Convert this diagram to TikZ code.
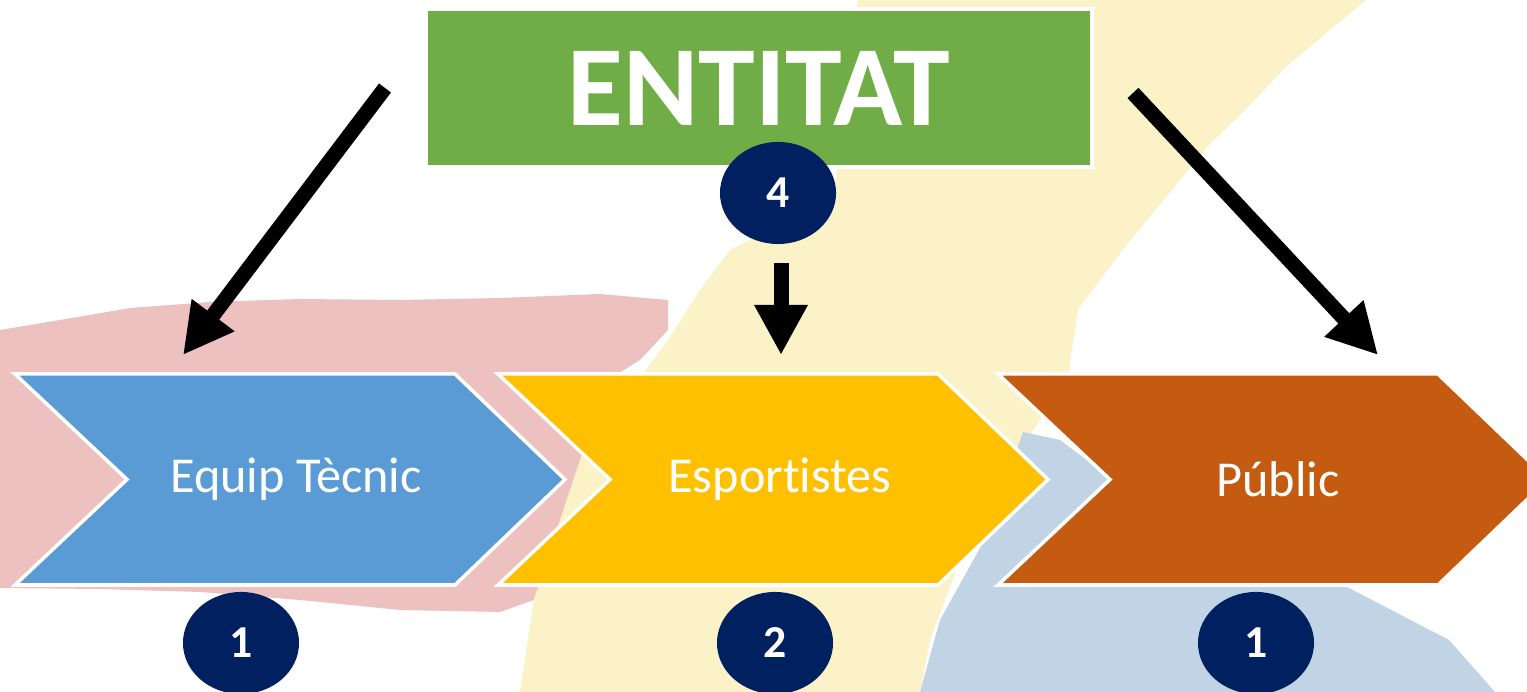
\documentclass[tikz,border=0pt]{standalone}
\usepackage{fontspec}
\setmainfont{Carlito}[Ligatures=NoCommon]
\usetikzlibrary{arrows.meta,shapes.geometric}

\definecolor{boxgreen}{HTML}{70AD47}
\definecolor{chevblue}{HTML}{5B9BD5}
\definecolor{chevyellow}{HTML}{FFC000}
\definecolor{chevorange}{HTML}{C55A11}
\definecolor{navy}{HTML}{002060}
\definecolor{bgpink}{HTML}{EEC1C1}
\definecolor{bgyellow}{HTML}{FBF2C8}
\definecolor{bgblue}{HTML}{C1D4E6}

\tikzset{
  numdot/.style={ellipse,fill=navy,text=white,minimum width=1.16cm,minimum height=1.02cm,
    inner sep=0pt,font=\fontsize{13}{15}\selectfont\bfseries},
  chevlabel/.style={text=white,font=\fontsize{14.3}{16}\selectfont},
  bigarrow/.style={line width=0.15cm,-{Triangle[length=0.5cm,width=0.5cm]}}
}

\begin{document}
\begin{tikzpicture}[x=0.01cm,y=-0.01cm]
  \clip (0,0) rectangle (1527,692);
  \fill[white] (0,0) rectangle (1527,692);

  % painted background
  \fill[bgpink] (0,330) -- (60,320) -- (130,308) -- (210,302) -- (300,299) -- (400,300)
    -- (500,298) -- (600,294) -- (668,300) -- (668,330) -- (640,360) -- (600,385)
    -- (590,450) -- (578,520) -- (560,580) -- (534,600) -- (500,612) -- (400,610)
    -- (300,600) -- (200,592) -- (100,589) -- (0,588) -- cycle;
  \fill[bgyellow] (858,0) -- (1366,0) -- (1287,66) -- (1245,110) -- (1208,146)
    -- (1125,247) -- (1078,309) -- (1069,371) -- (1040,420) -- (1000,480) -- (960,560)
    -- (930,640) -- (920,692) -- (520,692) -- (534,599) -- (560,520) -- (590,430)
    -- (645,371) -- (668,340) -- (700,290) -- (730,250) -- (800,215) -- (836,180)
    -- (845,100) -- cycle;
  \fill[bgblue] (1023,432) -- (1060,440) -- (1100,470) -- (1200,540) -- (1347,587)
    -- (1449,640) -- (1495,692) -- (920,692) -- (940,620) -- (980,548) -- (1010,470) -- cycle;

  % chevrons
  \foreach \l/\col in {15/chevblue,498/chevyellow,998/chevorange}{
    \draw[white,line width=1pt,fill=\col] (\l,374) -- ++(440,0) -- ++(110,105.5)
      -- ++(-110,105.5) -- ++(-440,0) -- ++(112,-105.5) -- cycle;
  }
  \node[chevlabel] (tecnic) at (296,479) {Equip Tècnic};
  \node[chevlabel] (esport) at (780,479) {Esportistes};
  \node[chevlabel] (public) at (1278,479) {Públic};

  % top box
  \node[draw=white,line width=1pt,fill=boxgreen,minimum width=6.66cm,minimum height=1.58cm,
    text=white,font=\fontsize{32.5}{36}\selectfont\bfseries] (entitat) at (759,88) {ENTITAT};

  % counts
  \node[numdot] (n4) at (778,193) {4};
  \node[numdot] (n1a) at (241,643) {1};
  \node[numdot] (n2) at (775,643) {2};
  \node[numdot] (n1b) at (1256,643) {1};

  % arrows
  \coordinate (lstart) at (385,88);
  \coordinate (lend) at (183,355);
  \coordinate (rstart) at (1133,93);
  \coordinate (rend) at (1378,355);
  \coordinate (dstart) at (781,263);
  \coordinate (dend) at (781,355);
  \draw[bigarrow] (lstart) -- (lend);
  \draw[bigarrow] (rstart) -- (rend);
  \draw[bigarrow] (dstart) -- (dend);
\end{tikzpicture}
\end{document}
